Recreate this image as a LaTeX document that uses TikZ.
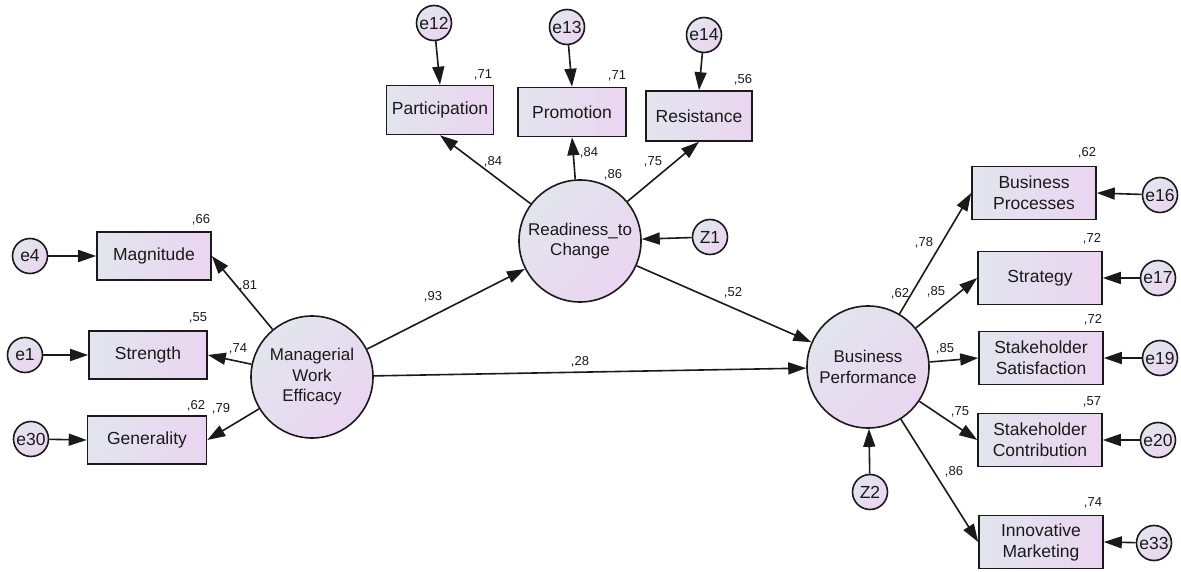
\documentclass[tikz,border=0pt]{standalone}
\usepackage{fontspec}
\setmainfont{Liberation Sans}
\usetikzlibrary{arrows.meta}
\definecolor{boxL}{HTML}{E2E5EE}
\definecolor{boxR}{HTML}{EAD5F0}
\definecolor{ink}{HTML}{1A1A1A}
\tikzset{
 base/.style={draw=ink, line width=1.6bp, text=ink},
 obs/.style={base, rectangle, left color=boxL, right color=boxR, minimum height=48bp, inner sep=2bp, align=center, font=\fontsize{17.5bp}{21bp}\selectfont},
 obsr/.style={obs, minimum width=124bp, minimum height=53bp},
 lat/.style={base, circle, left color=boxL, right color=boxR, shading angle=45, minimum size=122bp, inner sep=0pt, align=center, font=\fontsize{17bp}{20.5bp}\selectfont},
 err/.style={base, circle, left color=boxL, right color=boxR, shading angle=45, minimum size=35bp, inner sep=0pt, font=\fontsize{17.5bp}{17.5bp}\selectfont},
 pth/.style={draw=ink, line width=1.6bp, -{Triangle[length=18bp,width=12bp]}},
 est/.style={font=\fontsize{13bp}{13bp}\selectfont, text=ink, inner sep=0pt},
}
\begin{document}
\begin{tikzpicture}[x=1bp, y=-1bp]
\useasboundingbox (0,0) rectangle (1181,572);
% latent
\node[lat] (mwe) at (312,377) {Managerial\\Work\\Efficacy};
\node[lat] (rtc) at (580,241) {Readiness\_to\\Change};
\node[lat] (bp) at (868,367) {Business\\Performance};
% observed left
\node[obs, minimum width=114bp] (mag) at (154,256) {Magnitude};
\node[obs, minimum width=118bp] (str) at (148,355) {Strength};
\node[obs, minimum width=119bp] (gen) at (147,440) {Generality};
% observed top
\node[obs, minimum width=107bp, minimum height=49bp] (par) at (440,110) {Participation};
\node[obs, minimum width=108bp, minimum height=49bp] (pro) at (572,112) {Promotion};
\node[obs, minimum width=106bp, minimum height=50bp] (res) at (699,116) {Resistance};
% observed right
\node[obsr] (bpr) at (1034,193) {Business\\Processes};
\node[obsr] (stg) at (1040,278) {Strategy};
\node[obsr] (sts) at (1041,358) {Stakeholder\\Satisfaction};
\node[obsr] (stc) at (1040,440) {Stakeholder\\Contribution};
\node[obsr] (inm) at (1041,542) {Innovative\\Marketing};
% errors
\node[err] (e4) at (30,256) {e4};
\node[err] (e1) at (25,355) {e1};
\node[err] (e30) at (31,439) {e30};
\node[err] (e12) at (434,23) {e12};
\node[err] (e13) at (567,27) {e13};
\node[err] (e14) at (704,35) {e14};
\node[err] (z1) at (710,237) {Z1};
\node[err] (z2) at (870,492) {Z2};
\node[err] (e16) at (1160,195) {e16};
\node[err] (e17) at (1158,278) {e17};
\node[err] (e19) at (1160,358) {e19};
\node[err] (e20) at (1158,440) {e20};
\node[err] (e33) at (1154,543) {e33};
% paths
\draw[pth] (mwe) -- (mag.east);
\draw[pth] (mwe) -- (str.east);
\draw[pth] (mwe) -- (gen.east);
\draw[pth] (e4) -- (mag.west);
\draw[pth] (e1) -- (str.west);
\draw[pth] (e30) -- (gen.west);
\draw[pth] (rtc) -- (par.south);
\draw[pth] (rtc) -- (pro.south);
\draw[pth] (rtc) -- (res.south);
\draw[pth] (e12) -- (par.north);
\draw[pth] (e13) -- (pro.north);
\draw[pth] (e14) -- (res.north);
\draw[pth] (z1) -- (rtc);
\draw[pth] (mwe) -- (rtc);
\draw[pth] (rtc) -- (bp);
\draw[pth] (mwe) -- (bp);
\draw[pth] (z2) -- (bp);
\draw[pth] (bp) -- (bpr.west);
\draw[pth] (bp) -- (stg.west);
\draw[pth] (bp) -- (sts.west);
\draw[pth] (bp) -- (stc.west);
\draw[pth] (bp) -- (inm.west);
\draw[pth] (e16) -- (bpr.east);
\draw[pth] (e17) -- (stg.east);
\draw[pth] (e19) -- (sts.east);
\draw[pth] (e20) -- (stc.east);
\draw[pth] (e33) -- (inm.east);
% estimates
\node[est] (l1) at (201,220) {,66};
\node[est] (l2) at (248,286) {,81};
\node[est] (l3) at (198,318) {,55};
\node[est] (l4) at (238,349) {,74};
\node[est] (l5) at (196,406) {,62};
\node[est] (l6) at (221,409) {,79};
\node[est] (l7) at (483,75) {,71};
\node[est] (l8) at (617,76) {,71};
\node[est] (l9) at (743,80) {,56};
\node[est] (l10) at (493,162) {,84};
\node[est] (l11) at (589,153) {,84};
\node[est] (l12) at (613,175) {,86};
\node[est] (l13) at (653,162) {,75};
\node[est] (l14) at (433,297) {,93};
\node[est] (l15) at (733,293) {,52};
\node[est] (l16) at (580,362) {,28};
\node[est] (l17) at (1087,153) {,62};
\node[est] (l18) at (924,243) {,78};
\node[est] (l19) at (900,294) {,62};
\node[est] (l20) at (936,292) {,85};
\node[est] (l21) at (1092,239) {,72};
\node[est] (l22) at (945,349) {,85};
\node[est] (l23) at (1093,320) {,72};
\node[est] (l24) at (960,412) {,75};
\node[est] (l25) at (1092,402) {,57};
\node[est] (l26) at (954,472) {,86};
\node[est] (l27) at (1093,503) {,74};
\end{tikzpicture}
\end{document}
